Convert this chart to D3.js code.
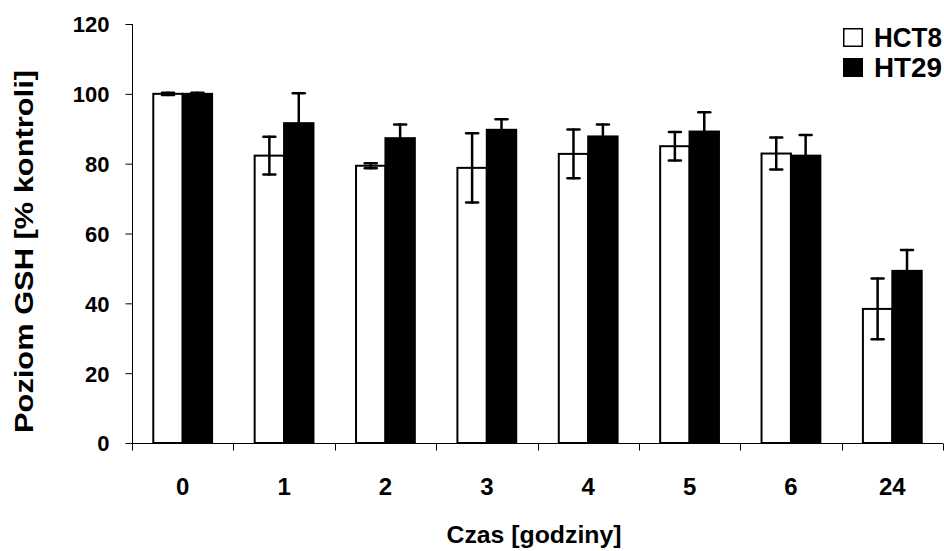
<!DOCTYPE html>
<html>
<head>
<meta charset="utf-8">
<script src="https://cdn.jsdelivr.net/npm/d3@7"></script>
<style>
  body { margin: 0; background: #fff; }
  text { font-family: "Liberation Sans", Arial, sans-serif; font-weight: bold; fill: #000; }
</style>
</head>
<body>
<script>
// czas [godziny]
const categories = ["0", "1", "2", "3", "4", "5", "6", "24"];
// poziom GSH, % kontroli
const hct8 = [100, 82.3, 79.4, 78.8, 82.8, 85.0, 82.9, 38.4];
const hct8Err = [0.3, 5.4, 0.7, 9.9, 7.0, 4.1, 4.6, 8.7];
const ht29 = [100, 91.6, 87.3, 89.7, 87.8, 89.2, 82.3, 49.3];
const ht29Err = [0.3, 8.6, 3.9, 3.0, 3.4, 5.5, 5.9, 6.0];
const yTicks = [0, 20, 40, 60, 80, 100, 120];
const seriesNames = ["HCT8", "HT29"];

const width = 944, height = 551;

const svg = d3.select("body").append("svg")
    .attr("width", width)
    .attr("height", height);

const x = d3.scaleBand()
    .domain(categories)
    .range([132, 943])
    .paddingInner(0.42)
    .paddingOuter(0.21);

const x1 = d3.scaleBand()
    .domain(seriesNames)
    .range([0, x.bandwidth()]);

const y = d3.scaleLinear()
    .domain([0, 120])
    .range([443, 24]);

const rows = categories.map((c, i) => [
  { cat: c, s: "HCT8", v: hct8[i], e: hct8Err[i] },
  { cat: c, s: "HT29", v: ht29[i], e: ht29Err[i] }
]).flat();

// bars
svg.append("g").selectAll("rect")
  .data(rows)
  .join("rect")
    .attr("x", d => x(d.cat) + x1(d.s))
    .attr("y", d => y(d.v))
    .attr("width", x1.bandwidth())
    .attr("height", d => y(0) - y(d.v))
    .attr("fill", d => d.s === "HCT8" ? "#fff" : "#000")
    .attr("stroke", "#000")
    .attr("stroke-width", 2);

// error bars
const eb = svg.append("g")
    .attr("stroke", "#000")
    .attr("stroke-width", 2.5)
    .attr("stroke-linecap", "round");

const cx = d => x(d.cat) + x1(d.s) + x1.bandwidth() / 2;

eb.selectAll("line.v")
  .data(rows)
  .join("line")
    .attr("class", "v")
    .attr("x1", cx).attr("x2", cx)
    .attr("y1", d => y(d.v + d.e))
    .attr("y2", d => y(d.v - d.e));

eb.selectAll("line.top")
  .data(rows)
  .join("line")
    .attr("class", "top")
    .attr("x1", d => cx(d) - 6).attr("x2", d => cx(d) + 6)
    .attr("y1", d => y(d.v + d.e)).attr("y2", d => y(d.v + d.e));

eb.selectAll("line.bot")
  .data(rows.filter(d => d.s === "HCT8"))
  .join("line")
    .attr("class", "bot")
    .attr("x1", d => cx(d) - 6).attr("x2", d => cx(d) + 6)
    .attr("y1", d => y(d.v - d.e)).attr("y2", d => y(d.v - d.e));

// y axis
const yAxis = svg.append("g")
    .attr("transform", "translate(132.5,0)")
    .call(d3.axisLeft(y).tickValues(yTicks).tickSize(7).tickPadding(16));
yAxis.selectAll("path, line").attr("stroke", "#000");
yAxis.select(".domain").attr("d", `M0,${y(120)}V${y(0)}`);
yAxis.selectAll("text")
    .style("font-size", "22px")
    .attr("dy", "0.36em")
    .attr("transform", "scale(1,1.08)")
    .attr("y", function() { return 0; });
yAxis.selectAll(".tick text")
    .attr("transform", null);

// x axis: ticks between categories
const bounds = d3.range(categories.length + 1).map(i => 132 + i * x.step());
const xg = svg.append("g").attr("transform", `translate(0,${y(0) + 0.5})`);
xg.append("line")
    .attr("x1", 132).attr("x2", 943)
    .attr("stroke", "#000");
xg.selectAll("line.t")
  .data(bounds)
  .join("line")
    .attr("class", "t")
    .attr("x1", d => Math.round(d) + 0.5).attr("x2", d => Math.round(d) + 0.5)
    .attr("y1", 0).attr("y2", 7)
    .attr("stroke", "#000");
xg.selectAll("text")
  .data(categories)
  .join("text")
    .attr("x", d => x(d) + x.bandwidth() / 2)
    .attr("y", 51)
    .attr("text-anchor", "middle")
    .style("font-size", "24px")
    .text(d => d);

// axis titles
svg.append("text")
    .attr("transform", "translate(32.5,251.5) rotate(-90)")
    .attr("text-anchor", "middle")
    .style("font-size", "26px")
    .attr("textLength", 363)
    .attr("lengthAdjust", "spacingAndGlyphs")
    .text("Poziom GSH [% kontroli]");

svg.append("text")
    .attr("x", 534)
    .attr("y", 543)
    .attr("text-anchor", "middle")
    .style("font-size", "24px")
    .attr("textLength", 175)
    .attr("lengthAdjust", "spacingAndGlyphs")
    .text("Czas [godziny]");

// legend
const legend = svg.append("g").selectAll("g")
  .data(seriesNames)
  .join("g")
    .attr("transform", (d, i) => `translate(843,${28 + i * 30})`);
legend.append("rect")
    .attr("x", 0.75).attr("y", 0.75)
    .attr("width", 18.5).attr("height", 17.5)
    .attr("fill", (d, i) => i === 0 ? "#fff" : "#000")
    .attr("stroke", "#000")
    .attr("stroke-width", 1.5);
legend.append("text")
    .attr("x", 31)
    .attr("y", 18.7)
    .style("font-size", "27px")
    .attr("textLength", 68)
    .attr("lengthAdjust", "spacingAndGlyphs")
    .text(d => d);
</script>
</body>
</html>
